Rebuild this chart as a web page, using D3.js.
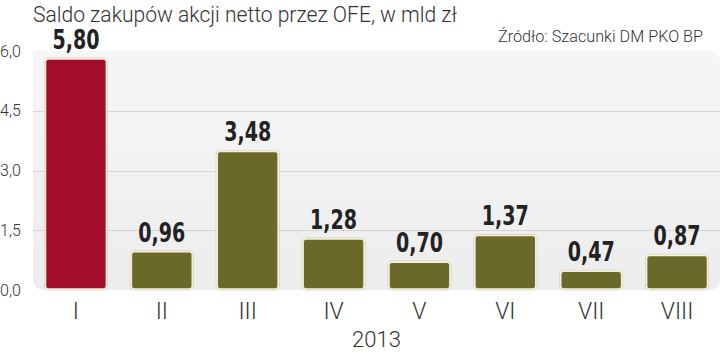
<!DOCTYPE html>
<html>
<head>
<meta charset="utf-8">
<script src="https://cdn.jsdelivr.net/npm/d3@7"></script>
<style>
  body { margin: 0; background: #fff; }
  svg { display: block; }
</style>
</head>
<body>
<div id="chart"></div>
<script>
var months = ['I', 'II', 'III', 'IV', 'V', 'VI', 'VII', 'VIII'];
var values = [5.80, 0.96, 3.48, 1.28, 0.70, 1.37, 0.47, 0.87];
var yTicks = [0, 1.5, 3.0, 4.5, 6.0];
var year = '2013';
var title = 'Saldo zakupów akcji netto przez OFE, w mld zł';
var source = 'Źródło: Szacunki DM PKO BP';

var width = 720, height = 353;
var plotLeft = 33, plotRight = 720, plotTop = 51, plotBottom = 290;

var svg = d3.select('#chart').append('svg')
    .attr('width', width)
    .attr('height', height);

var defs = svg.append('defs');
var grad = defs.append('linearGradient')
    .attr('id', 'panelGrad')
    .attr('x1', 0).attr('y1', 0).attr('x2', 0).attr('y2', 1);
grad.append('stop').attr('offset', '0%').attr('stop-color', '#f6f6f6');
grad.append('stop').attr('offset', '100%').attr('stop-color', '#ededed');

var x = d3.scaleBand()
    .domain(months)
    .range([plotLeft, plotRight])
    .paddingInner(0.29)
    .paddingOuter(0.145);

var y = d3.scaleLinear()
    .domain([0, 6])
    .range([plotBottom, plotTop]);

// panel with rounded bottom-left and top-right corners
var r = 12;
svg.append('path')
    .attr('d', 'M' + plotLeft + ',' + plotTop +
        ' L' + (plotRight - r) + ',' + plotTop +
        ' Q' + plotRight + ',' + plotTop + ' ' + plotRight + ',' + (plotTop + r) +
        ' L' + plotRight + ',' + (plotBottom - r) +
        ' Q' + plotRight + ',' + plotBottom + ' ' + (plotRight - r) + ',' + plotBottom +
        ' L' + (plotLeft + r) + ',' + plotBottom +
        ' Q' + plotLeft + ',' + plotBottom + ' ' + plotLeft + ',' + (plotBottom - r) + ' Z')
    .attr('fill', 'url(#panelGrad)');

// gridlines
svg.append('g')
    .selectAll('line')
    .data(yTicks.filter(function(d) { return d > 0 && d < 6; }))
    .enter().append('line')
    .attr('x1', plotLeft)
    .attr('x2', plotRight)
    .attr('y1', function(d) { return Math.round(y(d)) + 0.5; })
    .attr('y2', function(d) { return Math.round(y(d)) + 0.5; })
    .attr('stroke', '#d4d4d4')
    .attr('stroke-width', 1);

// y axis labels
svg.append('g')
    .selectAll('text')
    .data(yTicks)
    .enter().append('text')
    .attr('x', 0)
    .attr('y', function(d) { return y(d) + 5.5; })
    .attr('font-family', 'Roboto, sans-serif')
    .attr('font-weight', 300)
    .attr('font-size', 16)
    .attr('fill', '#333')
    .text(function(d) { return d.toFixed(1).replace('.', ','); });

// bars
var bars = svg.append('g');
bars.selectAll('rect.shadow')
    .data(values)
    .enter().append('rect')
    .attr('class', 'shadow')
    .attr('x', function(d, i) { return x(months[i]) - 1; })
    .attr('y', function(d) { return y(d) - 1; })
    .attr('width', x.bandwidth() + 2)
    .attr('height', function(d) { return y(0) - y(d) + 1; })
    .attr('rx', 4)
    .attr('fill', 'none')
    .attr('stroke', '#cfcfcf')
    .attr('stroke-width', 1);

bars.selectAll('rect.bar')
    .data(values)
    .enter().append('rect')
    .attr('class', 'bar')
    .attr('x', function(d, i) { return x(months[i]); })
    .attr('y', function(d) { return y(d); })
    .attr('width', x.bandwidth())
    .attr('height', function(d) { return y(0) - y(d) - 1; })
    .attr('rx', 3)
    .attr('fill', function(d, i) { return i === 0 ? '#a30d2d' : '#6a6929'; })
    .attr('stroke', '#f5f0d8')
    .attr('stroke-width', 1.6);

// value labels, squeezed to look like a condensed face
svg.append('g')
    .selectAll('text')
    .data(values)
    .enter().append('text')
    .attr('x', function(d, i) { return x(months[i]) + x.bandwidth() / 2; })
    .attr('y', function(d) { return y(d) - 10; })
    .attr('text-anchor', 'middle')
    .attr('font-family', '"DejaVu Sans Condensed", "DejaVu Sans", sans-serif')
    .attr('font-weight', 'bold')
    .attr('font-size', 26)
    .attr('fill', '#222')
    .text(function(d) { return d.toFixed(2).replace('.', ','); })
    .attr('textLength', 47)
    .attr('lengthAdjust', 'spacingAndGlyphs');

// x labels
svg.append('g')
    .selectAll('text')
    .data(months)
    .enter().append('text')
    .attr('x', function(d) { return x(d) + x.bandwidth() / 2; })
    .attr('y', 319)
    .attr('text-anchor', 'middle')
    .attr('font-family', 'Roboto, sans-serif')
    .attr('font-weight', 300)
    .attr('font-size', 23)
    .attr('fill', '#333')
    .text(function(d) { return d; });

svg.append('text')
    .attr('x', (plotLeft + plotRight) / 2)
    .attr('y', 347)
    .attr('text-anchor', 'middle')
    .attr('font-family', 'Roboto, sans-serif')
    .attr('font-weight', 300)
    .attr('font-size', 22)
    .attr('fill', '#333')
    .text(year);

// title and source
svg.append('text')
    .attr('x', 33)
    .attr('y', 22)
    .attr('font-family', 'Roboto, sans-serif')
    .attr('font-weight', 300)
    .attr('font-size', 22)
    .attr('fill', '#333')
    .attr('textLength', 424)
    .attr('lengthAdjust', 'spacingAndGlyphs')
    .text(title);

svg.append('text')
    .attr('x', 703)
    .attr('y', 42)
    .attr('text-anchor', 'end')
    .attr('font-family', 'Roboto, sans-serif')
    .attr('font-weight', 300)
    .attr('font-size', 16)
    .attr('fill', '#333')
    .attr('textLength', 205)
    .attr('lengthAdjust', 'spacingAndGlyphs')
    .text(source);
</script>
</body>
</html>
